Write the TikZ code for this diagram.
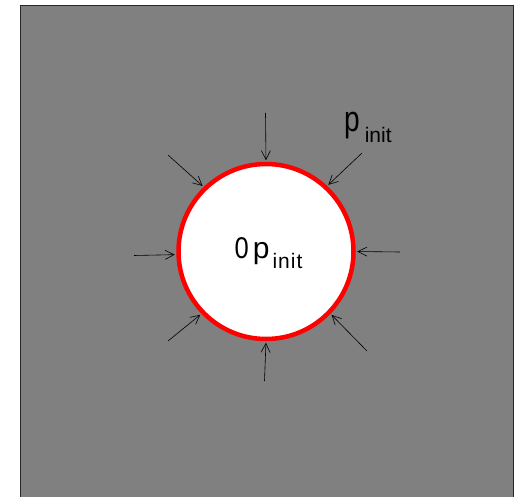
\documentclass[tikz,border=0pt]{standalone}
\usepackage{fontspec}
\setmainfont{Liberation Sans}
\usetikzlibrary{arrows.meta}
\newcommand{\subtxt}[1]{\raisebox{-11pt}{\fontsize{21}{24}\selectfont #1}}
\begin{document}
\begin{tikzpicture}[x=1pt,y=-1pt,
  push/.style={-{Straight Barb[length=9pt,width=9pt]},line width=0.6pt,black,shorten >=1.5pt},
  lab/.style={inner sep=0pt,anchor=base west}]
\useasboundingbox (0,0) rectangle (517,497);
\clip (0,0) rectangle (517,497);
\fill[white] (0,0) rectangle (517,497);
\draw[fill={rgb,255:red,128;green,128;blue,128},draw={rgb,255:red,40;green,40;blue,40},line width=1pt] (20.5,5.5) rectangle (513.5,505);
\node[circle,draw=red,fill=white,line width=4.5pt,minimum size=175pt,inner sep=0pt] (c) at (266,251.5) {};
\node[lab] (t0) at (234.5,258.5) {\fontsize{30}{34}\selectfont\scalebox{0.85}[1]{0}\hspace{4pt}p\hspace{3pt}\raisebox{-10pt}{\fontsize{21}{24}\selectfont i\hspace{1pt}n\hspace{1pt}i\hspace{1pt}t}};
\node[lab] (t1) at (344,132) {\scalebox{0.78}[1]{\fontsize{36}{40}\selectfont p}\hspace{5pt}\subtxt{init}};
\coordinate (sN) at (265.5,113);
\coordinate (sNE) at (362,153);
\coordinate (sE) at (400,252);
\coordinate (sSE) at (367,351);
\coordinate (sS) at (264.5,381);
\coordinate (sSW) at (168,341);
\coordinate (sW) at (134,255.5);
\coordinate (sNW) at (168,155);
\draw[push] (sN) -- (c.90);
\draw[push] (sNE) -- (c.47);
\draw[push] (sE) -- (c.0);
\draw[push] (sSE) -- (c.316);
\draw[push] (sS) -- (c.270);
\draw[push] (sSW) -- (c.224);
\draw[push] (sW) -- (c.182);
\draw[push] (sNW) -- (c.134);
\end{tikzpicture}
\end{document}
